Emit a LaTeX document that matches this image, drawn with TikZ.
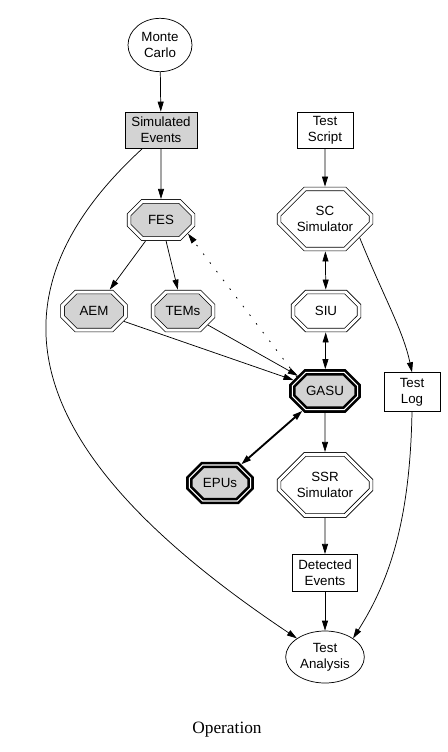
\documentclass[tikz,border=0pt]{standalone}
\usepackage{fontspec}
\setmainfont{Liberation Serif}
\setsansfont{Liberation Sans}
\usetikzlibrary{shapes.geometric,shapes.misc,arrows.meta}
\definecolor{lgray}{HTML}{D3D3D3}
\tikzset{
  every node/.style={font=\sffamily\fontsize{10}{12}\selectfont, align=center, inner sep=0pt},
  ell/.style={ellipse, draw, minimum width=#1},
  box/.style={rectangle, draw, minimum height=27pt},
  oct/.style={chamfered rectangle, draw, double, double distance=2.25pt,
    outer sep=1.8pt, chamfered rectangle xsep=8pt, chamfered rectangle ysep=6.5pt,
    fill=white},
  bigoct/.style={oct, chamfered rectangle xsep=14pt, chamfered rectangle ysep=10pt},
  boldoct/.style={chamfered rectangle, draw, line width=2pt, double, double distance=0.8pt,
    outer sep=2.4pt, chamfered rectangle xsep=8pt, chamfered rectangle ysep=6.5pt,
    fill=lgray},
  edge/.style={->}
}
\begin{document}
\begin{tikzpicture}[x=0.75pt, y=-0.75pt, line width=0.55pt, >={Triangle[length=7.5pt,width=4.5pt]}]
  \useasboundingbox (0,0) rectangle (448,752);
  % nodes
  \node[ell=48pt, minimum height=40pt] (mc) at (160,45) {Monte\\Carlo};
  \node[box, fill=lgray, minimum width=54pt] (simev) at (161,130) {Simulated\\Events};
  \node[box, minimum width=42pt] (script) at (325,130) {Test\\Script};
  \node[oct, fill=lgray, minimum width=48pt, minimum height=28pt] (fes) at (161,220) {FES};
  \node[bigoct, minimum width=69pt, minimum height=45pt] (scsim) at (325,219) {SC\\Simulator};
  \node[oct, fill=lgray, minimum width=47pt, minimum height=28.5pt] (aem) at (94,311) {AEM};
  \node[oct, fill=lgray, minimum width=45pt, minimum height=28.5pt] (tems) at (183,311) {TEMs};
  \node[oct, minimum width=49.5pt, minimum height=28.5pt] (siu) at (326,311) {SIU};
  \node[boldoct, minimum width=49pt, minimum height=28pt] (gasu) at (325,391) {GASU};
  \node[box, minimum width=42pt, minimum height=29pt] (testlog) at (412,392) {Test\\Log};
  \node[boldoct, minimum width=46pt, minimum height=27pt] (epus) at (220,483) {EPUs};
  \node[bigoct, minimum width=69pt, minimum height=46pt] (ssr) at (325,485) {SSR\\Simulator};
  \node[box, minimum width=49pt, minimum height=28pt] (det) at (325,573) {Detected\\Events};
  \node[ell=59pt, minimum height=39pt] (ta) at (325,657) {Test\\Analysis};
  \node[font=\rmfamily\fontsize{13}{15}\selectfont] (title) at (227,730) {Operation};
  % edges
  \draw[edge] (mc) -- (simev);
  \draw[edge] (simev) -- (fes);
  \draw[edge] (simev.south west) ++(18,0) coordinate (se) .. controls (-45,320) and (60,480) .. (ta.north west);
  \draw[edge] (script) -- (scsim);
  \draw[edge] (fes) -- (aem);
  \draw[edge] (fes) -- (tems);
  \draw[<->] (scsim) -- (siu);
  \draw[edge] (scsim.south east) .. controls (385,300) and (403,330) .. (testlog.north);
  \draw[<->] (siu) -- (gasu);
  \draw[edge] (aem) -- (gasu);
  \draw[edge] (tems) -- (gasu);
  \draw[->, line width=0.6pt, dash pattern=on 1.2pt off 7pt] (gasu.north west) -- (fes.south east);
  \draw[<->, line width=1.4pt] (gasu) -- (epus);
  \draw[edge] (gasu) -- (ssr);
  \draw[edge] (ssr) -- (det);
  \draw[edge] (det) -- (ta);
  \draw[edge] (testlog.south) .. controls (410,520) and (390,580) .. (ta.north east);
\end{tikzpicture}
\end{document}
